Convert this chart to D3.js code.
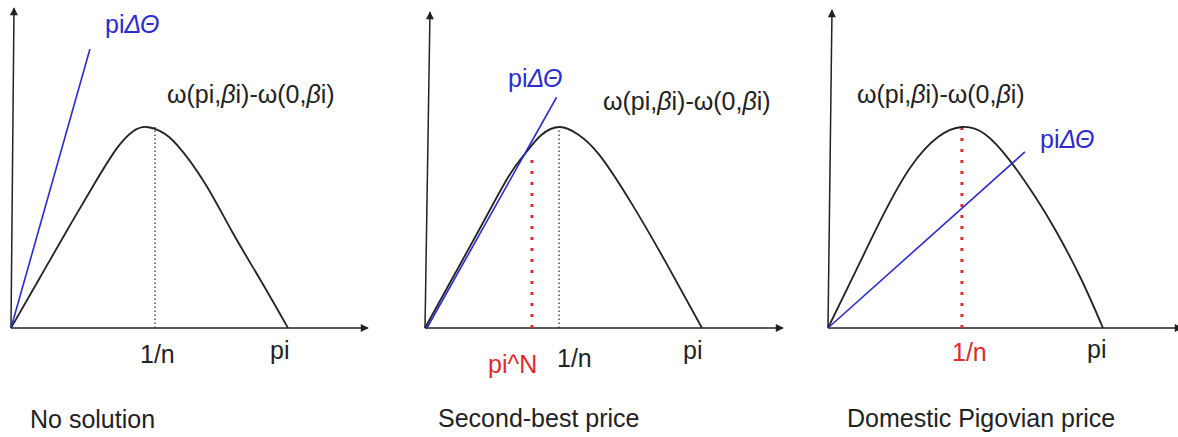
<!DOCTYPE html>
<html>
<head>
<meta charset="utf-8">
<script src="https://cdn.jsdelivr.net/npm/d3@7"></script>
<style>
  html, body { margin: 0; padding: 0; background: #fff; }
  svg { display: block; font-family: "Liberation Sans", Arial, sans-serif; }
</style>
</head>
<body>
<svg id="chart" width="1178" height="437"></svg>
<script>
// ---------------- data (x: 0 = origin, 1 = pi ; y: 1 = peak of the curve) ----------------
const panelTitles = ["No solution", "Second-best price", "Domestic Pigovian price"];
const xEndLabel = "pi";
const peakLabel = "1/n";
const secondBestLabel = "pi^N";

const curve1 = [[0,0],[0.1,0.24],[0.2,0.48],[0.3,0.715],[0.38,0.89],[0.44,0.978],[0.49,1.0],[0.54,0.978],[0.6,0.91],[0.7,0.72],[0.8,0.475],[0.9,0.24],[1,0]];
const curve2 = [[0,0],[0.1,0.25],[0.2,0.5],[0.3,0.75],[0.36,0.865],[0.42,0.96],[0.487,1.0],[0.55,0.965],[0.63,0.86],[0.75,0.61],[0.87,0.325],[1,0]];
const curve3 = [[0,0],[0.1,0.28],[0.2,0.56],[0.3,0.8],[0.4,0.95],[0.487,1.0],[0.57,0.965],[0.66,0.835],[0.75,0.66],[0.83,0.48],[0.92,0.245],[1,0]];

const blue1 = [[0,0],[0.285,1.388]];
const blue2 = [[0.007,0],[0.475,1.148]];
const blue3 = [[0,0],[0.716,0.876]];

const blackDotX = [0.52, 0.484, null];       // 1/n guide (black dotted)
const redDotX   = [null, 0.386, 0.487];      // red dotted guide
const redDotTop = [null, 0.846, 1.0];

// ---------------- layout ----------------
const svg = d3.select("#chart");
const axisY = 328, peakY = 127;
const panels = [
  {x0: 11,  x1: 288,  top: 8,  tilt: 3, right: 368,  curve: curve1, blue: blue1},
  {x0: 425, x1: 702,  top: 12, tilt: 5, right: 783,  curve: curve2, blue: blue2},
  {x0: 828, x1: 1103, top: 10, tilt: 4, right: 1182, curve: curve3, blue: blue3}
];

const defs = svg.append("defs");
defs.append("marker")
  .attr("id", "arrow")
  .attr("viewBox", "0 0 10 10")
  .attr("refX", 9).attr("refY", 5)
  .attr("markerWidth", 10).attr("markerHeight", 8)
  .attr("markerUnits", "userSpaceOnUse")
  .attr("orient", "auto")
  .append("path").attr("d", "M0,0 L10,5 L0,10 z").attr("fill", "#222");

const blueCol = "#2b2bd0";
const redCol = "#e0282e";
const fs = 25;

panels.forEach((p, i) => {
  const x = d3.scaleLinear().domain([0, 1]).range([p.x0, p.x1]);
  const y = d3.scaleLinear().domain([0, 1]).range([axisY, peakY]);
  const g = svg.append("g");

  // axes
  g.append("line").attr("x1", p.x0).attr("y1", axisY).attr("x2", p.right).attr("y2", axisY)
    .attr("stroke", "#222").attr("stroke-width", 1.5).attr("marker-end", "url(#arrow)");
  g.append("line").attr("x1", p.x0).attr("y1", axisY).attr("x2", p.x0 + p.tilt).attr("y2", p.top)
    .attr("stroke", "#222").attr("stroke-width", 1.5).attr("marker-end", "url(#arrow)");

  // black dotted guide
  if (blackDotX[i] !== null) {
    g.append("line")
      .attr("x1", x(blackDotX[i])).attr("x2", x(blackDotX[i]))
      .attr("y1", y(0)).attr("y2", y(1))
      .attr("stroke", "#333").attr("stroke-width", 1.3).attr("stroke-dasharray", "1.5 2.5");
  }
  // red dotted guide
  if (redDotX[i] !== null) {
    g.append("line")
      .attr("x1", x(redDotX[i])).attr("x2", x(redDotX[i]))
      .attr("y1", y(0)).attr("y2", y(redDotTop[i]))
      .attr("stroke", redCol).attr("stroke-width", 3).attr("stroke-dasharray", "3 8");
  }

  // curve
  const line = d3.line().x(d => x(d[0])).y(d => y(d[1])).curve(d3.curveNatural);
  g.append("path").attr("d", line(p.curve))
    .attr("fill", "none").attr("stroke", "#222").attr("stroke-width", 1.8);

  // blue line
  g.append("path").attr("d", d3.line().x(d => x(d[0])).y(d => y(d[1]))(p.blue))
    .attr("fill", "none").attr("stroke", blueCol).attr("stroke-width", 1.6);
});

// ---------------- text ----------------
function txt(xp, yp, s, color) {
  return svg.append("text").attr("x", xp).attr("y", yp)
    .attr("font-size", fs).attr("fill", color || "#222").text(s);
}
function piTheta(xp, yp) {
  const t = svg.append("text").attr("x", xp).attr("y", yp)
    .attr("font-size", fs).attr("fill", blueCol);
  t.append("tspan").text("pi");
  t.append("tspan").attr("font-style", "italic").text("ΔΘ");
}
function omegaLabel(xp, yp) {
  const t = svg.append("text").attr("x", xp).attr("y", yp)
    .attr("font-size", fs).attr("fill", "#222");
  t.append("tspan").text("ω(pi,");
  t.append("tspan").attr("font-style", "italic").text("β");
  t.append("tspan").text("i)-ω(0,");
  t.append("tspan").attr("font-style", "italic").text("β");
  t.append("tspan").text("i)");
}

// panel 1
piTheta(105, 33);
omegaLabel(167, 103);
txt(140, 363, peakLabel);
txt(270, 359, xEndLabel);
txt(30, 428, panelTitles[0]);

// panel 2
piTheta(508, 87);
omegaLabel(603, 110);
txt(488, 373, secondBestLabel, redCol);
txt(557, 367, peakLabel);
txt(683, 359, xEndLabel);
txt(438, 427, panelTitles[1]);

// panel 3
omegaLabel(857, 103);
piTheta(1040, 148);
txt(952, 361, peakLabel, redCol);
txt(1087, 358, xEndLabel);
txt(847, 427, panelTitles[2]);
</script>
</body>
</html>
